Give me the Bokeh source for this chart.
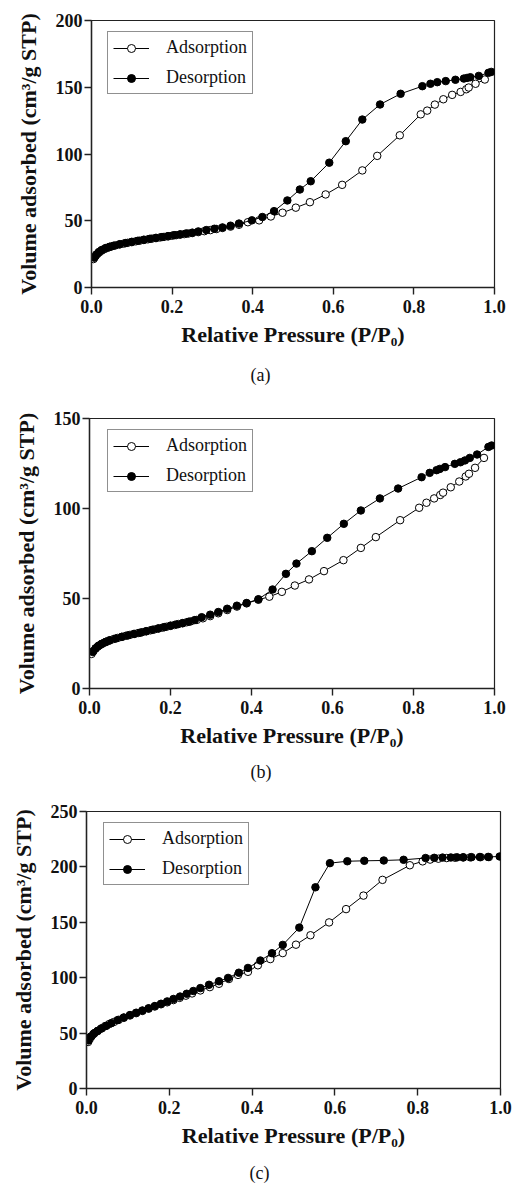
from bokeh.plotting import figure
from bokeh.layouts import column
from bokeh.models import Legend, LegendItem, Title, FixedTicker, NumeralTickFormatter, Range1d
from bokeh.embed import file_html
from bokeh.resources import INLINE

# ---------------- sample (a) ----------------
a_ads_p = [0.005, 0.01, 0.015, 0.02, 0.025, 0.03, 0.035, 0.04, 0.045, 0.05,
           0.06, 0.07, 0.08, 0.09, 0.10, 0.11, 0.12, 0.13, 0.14, 0.15,
           0.16, 0.17, 0.18, 0.19, 0.20, 0.21, 0.22, 0.23, 0.24, 0.25,
           0.265, 0.28, 0.295, 0.31, 0.325, 0.345, 0.366, 0.388, 0.416, 0.445,
           0.474, 0.507, 0.542, 0.581, 0.622, 0.672, 0.709, 0.765, 0.817, 0.833,
           0.852, 0.873, 0.895, 0.916, 0.93, 0.936, 0.953, 0.976]
a_ads_v = [21.3, 23.5, 25.2, 26.5, 27.6, 28.5, 29.2, 29.8, 30.3, 30.8,
           31.6, 32.3, 32.9, 33.5, 34.0, 34.6, 35.1, 35.6, 36.1, 36.6,
           37.0, 37.5, 37.9, 38.3, 38.8, 39.2, 39.6, 40.0, 40.4, 40.8,
           41.5, 42.2, 43.0, 43.8, 44.6, 45.6, 47.0, 48.9, 50.3, 53.2,
           56.0, 59.8, 63.9, 69.7, 76.9, 87.7, 98.6, 114.0, 129.7, 132.5,
           137.0, 141.0, 144.3, 146.5, 148.5, 149.8, 152.6, 155.8]
a_des_p = [0.992, 0.985, 0.961, 0.94, 0.932, 0.924, 0.903, 0.879, 0.858, 0.841,
           0.821, 0.767, 0.716, 0.672, 0.631, 0.59, 0.544, 0.517, 0.486, 0.453,
           0.424, 0.398, 0.366, 0.345, 0.325, 0.305, 0.285, 0.265, 0.25, 0.235,
           0.22, 0.205, 0.19, 0.175, 0.16, 0.145, 0.13, 0.115, 0.10, 0.085,
           0.07, 0.055, 0.045, 0.035, 0.025, 0.018, 0.012, 0.007]
a_des_v = [161.5, 160.8, 158.5, 157.5, 157.0, 156.5, 155.6, 154.6, 153.8, 152.6,
           150.8, 145.1, 137.1, 125.8, 109.6, 93.5, 79.6, 73.4, 65.2, 57.2,
           52.8, 50.3, 47.9, 46.3, 45.0, 44.0, 43.0, 42.0, 41.1, 40.5,
           39.8, 39.2, 38.5, 37.8, 37.2, 36.5, 35.8, 35.0, 34.2, 33.3,
           32.4, 31.3, 30.5, 29.5, 28.0, 26.5, 24.7, 22.3]

# ---------------- sample (b) ----------------
b_ads_p = [0.005, 0.01, 0.015, 0.02, 0.025, 0.03, 0.035, 0.04, 0.045, 0.05,
           0.06, 0.07, 0.08, 0.09, 0.10, 0.11, 0.12, 0.13, 0.14, 0.15,
           0.16, 0.17, 0.18, 0.19, 0.20, 0.21, 0.22, 0.23, 0.24, 0.25,
           0.265, 0.28, 0.298, 0.318, 0.34, 0.364, 0.388, 0.417, 0.444, 0.475,
           0.507, 0.542, 0.579, 0.627, 0.67, 0.707, 0.767, 0.814, 0.832, 0.851,
           0.866, 0.873, 0.892, 0.913, 0.929, 0.937, 0.952, 0.974]
b_ads_v = [19.2, 20.9, 22.2, 23.2, 24.0, 24.7, 25.3, 25.8, 26.3, 26.7,
           27.5, 28.1, 28.7, 29.3, 29.8, 30.3, 30.8, 31.3, 31.8, 32.3,
           32.8, 33.3, 33.8, 34.3, 34.8, 35.3, 35.8, 36.3, 36.8, 37.3,
           38.1, 39.0, 40.2, 41.8, 43.6, 45.5, 47.3, 49.3, 51.0, 53.7,
           57.2, 60.6, 65.2, 71.3, 78.1, 84.1, 93.5, 100.4, 103.2, 105.6,
           107.5, 108.8, 111.8, 115.0, 117.8, 119.3, 122.6, 128.1]
b_des_p = [0.993, 0.985, 0.957, 0.939, 0.927, 0.916, 0.902, 0.878, 0.865, 0.857,
           0.84, 0.82, 0.762, 0.717, 0.67, 0.628, 0.587, 0.549, 0.511, 0.485,
           0.452, 0.417, 0.388, 0.364, 0.34, 0.318, 0.298, 0.277, 0.26, 0.245,
           0.23, 0.215, 0.2, 0.185, 0.17, 0.155, 0.14, 0.125, 0.11, 0.095,
           0.08, 0.065, 0.05, 0.04, 0.03, 0.022, 0.015, 0.008]
b_des_v = [135.0, 134.2, 130.0, 128.1, 126.7, 125.7, 124.8, 123.0, 122.0, 121.3,
           119.8, 117.4, 111.1, 105.6, 98.9, 91.5, 83.7, 76.3, 69.4, 63.7,
           55.0, 49.6, 47.5, 46.0, 44.3, 42.5, 41.0, 39.6, 38.0, 37.1,
           36.3, 35.6, 34.9, 34.1, 33.4, 32.6, 31.8, 31.0, 30.3, 29.5,
           28.7, 27.8, 26.8, 25.9, 24.8, 23.7, 22.3, 20.3]

# ---------------- sample (c) ----------------
c_ads_p = [0.004, 0.008, 0.012, 0.016, 0.02, 0.027, 0.035, 0.045, 0.055, 0.066,
           0.078, 0.09, 0.105, 0.12, 0.135, 0.15, 0.165, 0.18, 0.195, 0.21,
           0.225, 0.24, 0.255, 0.275, 0.298, 0.32, 0.344, 0.366, 0.39, 0.414,
           0.444, 0.474, 0.506, 0.541, 0.586, 0.627, 0.669, 0.715, 0.781, 0.812,
           0.83, 0.85, 0.87, 0.89, 0.91, 0.927, 0.952, 0.972]
c_ads_v = [42.0, 44.8, 47.0, 48.8, 50.2, 52.0, 54.0, 56.3, 58.2, 60.0,
           62.0, 63.8, 65.9, 68.0, 70.0, 72.0, 74.0, 76.0, 77.8, 79.8,
           81.8, 83.8, 85.8, 88.5, 91.5, 94.5, 98.8, 102.5, 105.3, 111.2,
           116.8, 122.2, 129.8, 138.3, 149.9, 161.9, 174.1, 188.3, 201.5, 205.0,
           206.6, 207.4, 208.0, 208.3, 208.5, 208.6, 208.8, 208.9]
c_des_p = [0.998, 0.97, 0.95, 0.93, 0.91, 0.895, 0.88, 0.86, 0.84, 0.819,
           0.766, 0.718, 0.671, 0.63, 0.588, 0.553, 0.514, 0.474, 0.448, 0.42,
           0.39, 0.368, 0.342, 0.32, 0.296, 0.275, 0.258, 0.242, 0.226, 0.21,
           0.195, 0.18, 0.165, 0.15, 0.135, 0.12, 0.105, 0.09, 0.075, 0.06,
           0.048, 0.037, 0.027, 0.018, 0.01, 0.005]
c_des_v = [209.4, 209.0, 208.9, 208.8, 208.7, 208.6, 208.5, 208.4, 208.2, 208.0,
           206.4, 205.8, 205.5, 205.1, 203.4, 181.6, 145.2, 129.6, 122.1, 115.5,
           108.8, 104.5, 99.8, 96.8, 93.6, 90.6, 88.0, 85.5, 83.0, 80.8,
           78.6, 76.5, 74.4, 72.4, 70.4, 68.4, 66.3, 64.1, 61.7, 59.0,
           56.6, 54.3, 52.0, 49.7, 46.8, 43.4]

panels = [
    # data, y top, y ticks, tag, frame (w, h), borders (left, right, top, bottom),
    # legend box (left offset, top offset, height), tag offset, tag standoff
    (a_ads_p, a_ads_v, a_des_p, a_des_v, 200, [0, 50, 100, 150, 200], "(a)",
     403, 267, 91, 23, 20, 110, 16, 11, 63, 159, 27),
    (b_ads_p, b_ads_v, b_des_p, b_des_v, 150, [0, 50, 100, 150], "(b)",
     405, 270, 89, 23, 20, 103, 18, 11, 63, 161, 18),
    (c_ads_p, c_ads_v, c_des_p, c_des_v, 250, [0, 50, 100, 150, 200, 250], "(c)",
     414, 277, 86, 17, 20, 101, 17, 11, 63, 163, 20),
]

SERIF = "Liberation Serif"
x_ticks = [0.0, 0.2, 0.4, 0.6, 0.8, 1.0]


def isotherm(ads_p, ads_v, des_p, des_v, y_top, y_ticks, tag,
             fw, fh, bl, br, bt, bb, lx, ly, lh, tag_off, tag_gap):
    p = figure(frame_width=fw, frame_height=fh,
               x_range=Range1d(0, 1), y_range=Range1d(0, y_top),
               min_border_left=bl, min_border_right=br,
               min_border_top=bt, min_border_bottom=bb,
               output_backend="svg", toolbar_location=None)
    p.frame_align = False
    p.background_fill_color = "white"
    p.border_fill_color = "white"
    p.outline_line_color = "#222222"
    p.outline_line_width = 1.2
    p.xgrid.visible = False
    p.ygrid.visible = False

    for ax in (p.xaxis[0], p.yaxis[0]):
        ax.axis_line_color = "#222222"
        ax.axis_line_width = 1.4
        ax.major_tick_line_color = "#222222"
        ax.major_tick_line_width = 1.4
        ax.major_tick_in = 0
        ax.major_tick_out = 7
        ax.minor_tick_line_color = None
        ax.major_label_text_font = SERIF
        ax.major_label_text_font_style = "bold"
        ax.major_label_text_font_size = "18px"
        ax.major_label_text_color = "#111111"
        ax.axis_label_text_font = SERIF
        ax.axis_label_text_font_style = "bold"
        ax.axis_label_text_font_size = "22px"
        ax.axis_label_text_color = "#111111"

    p.xaxis.ticker = FixedTicker(ticks=x_ticks)
    p.xaxis.formatter = NumeralTickFormatter(format="0.0")
    p.xaxis.major_label_standoff = 5
    p.xaxis.axis_label = "Relative Pressure (P/P\u2080)"
    p.xaxis.axis_label_standoff = 6

    p.yaxis.ticker = FixedTicker(ticks=y_ticks)
    p.yaxis.major_label_standoff = 2
    p.yaxis.axis_label = "Volume adsorbed (cm\u00b3/g STP)"
    p.yaxis.axis_label_standoff = 12

    ads_line = p.line(ads_p, ads_v, line_color="black", line_width=1)
    ads_pts = p.scatter(ads_p, ads_v, marker="circle", size=7.5,
                        fill_color="white", line_color="black", line_width=1)
    des_line = p.line(des_p, des_v, line_color="black", line_width=1)
    des_pts = p.scatter(des_p, des_v, marker="circle", size=7.5,
                        fill_color="black", line_color="black", line_width=1)

    # legend box: its bottom-left corner is given from the frame's bottom-left
    legend = Legend(items=[LegendItem(label="Adsorption", renderers=[ads_line, ads_pts]),
                           LegendItem(label="Desorption", renderers=[des_line, des_pts])],
                    location=(lx, fh - ly - lh))
    legend.label_text_font = SERIF
    legend.label_text_font_size = "18px"
    legend.label_text_color = "#111111"
    legend.glyph_width = 36
    legend.glyph_height = 20
    legend.label_height = 20
    legend.label_standoff = 17
    legend.padding = 5
    legend.spacing = 9
    legend.margin = 0
    legend.border_line_color = "#222222"
    legend.border_line_width = 1.2
    legend.background_fill_alpha = 1
    p.add_layout(legend, "center")

    p.add_layout(Title(text=tag, align="left", offset=tag_off, standoff=tag_gap,
                       text_font=SERIF, text_font_style="normal",
                       text_font_size="18px", text_color="#111111"), "below")
    return p


figs = [isotherm(*cfg) for cfg in panels]
layout = column(*figs, spacing=0)
open("out.html", "w").write(file_html(layout, INLINE))
